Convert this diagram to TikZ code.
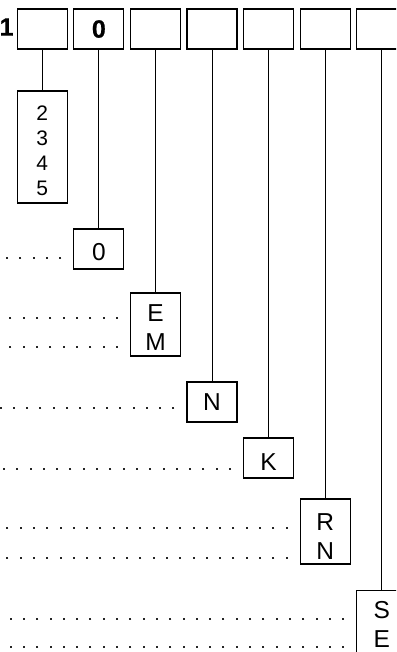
\documentclass[tikz,border=0pt]{standalone}
\usepackage{fontspec}
\setmainfont{Liberation Sans}
\newfontfamily\heavyfont[FakeBold=0.6]{Liberation Sans Bold}
\usetikzlibrary{positioning,calc}
\tikzset{
  cell/.style   = {draw, line width=1.2pt, minimum width=50pt,
                   minimum height=40pt, inner sep=0pt,
                   font=\heavyfont\fontsize{25}{30}\selectfont},
  slot/.style   = {draw, line width=1.2pt, minimum width=50pt,
                   inner sep=0pt},
  slottext/.style = {inner sep=0pt, align=center,
                     font=\fontsize{24.5}{29}\selectfont},
  stem/.style   = {line width=1pt},
  leader/.style = {line width=2pt, black!85,
                   dash pattern=on 2pt off 11.3pt},
}

\begin{document}
\begin{tikzpicture}[x=1pt, y=-1pt]

    \useasboundingbox (0,0) rectangle (396,652);
    \clip (0,0) rectangle (396,652);

    % --- TOP ROW OF CELLS ---
    \foreach \i/\txt in {1/{},2/0,3/{},4/{},5/{},6/{},7/{}}
        \node[cell] (t\i) at ({42.3+56.58*(\i-1)}, 29) {\txt};
    \node[anchor=east, inner sep=0pt, font=\heavyfont\fontsize{25}{30}\selectfont]
        (lead) at ([xshift=-3pt, yshift=2pt]t1.west) {1};

    % --- FIRST CELL: STACKED DIGITS ---
    \node[slot, minimum height=112pt,
          label={[slottext, yshift=-4pt, font=\fontsize{21}{25}\selectfont]center:2\\3\\4\\5}]
        (b1) at (t1 |- 0,147) {};

    % --- OTHER CELLS: LETTER BOXES ---
    \foreach \i/\yc/\hgt/\dy/\txt in {2/249/40/3/0, 3/324.5/63/3/{E\\M}, 4/402/40/0/N,
                                      5/458/40/4/K, 6/531.5/65/5/{R\\N}, 7/623/65/1.5/{S\\E}}
        \node[slot, minimum height=\hgt pt,
              label={[slottext, yshift=-\dy pt]center:\txt}] (b\i) at (t\i |- 0,\yc) {};

    % Stems
    \foreach \i in {1,...,7}
        \draw[stem] (t\i.south) -- (b\i.north);

    % Dotted leaders
    \foreach \i/\yr in {2/258, 3/318, 3/347, 4/408, 5/469,
                        6/528, 6/558, 7/619, 7/647}
        \draw[leader] (b\i.west |- 0,\yr) ++(-12,0) -- (0,\yr);

\end{tikzpicture}
\end{document}
